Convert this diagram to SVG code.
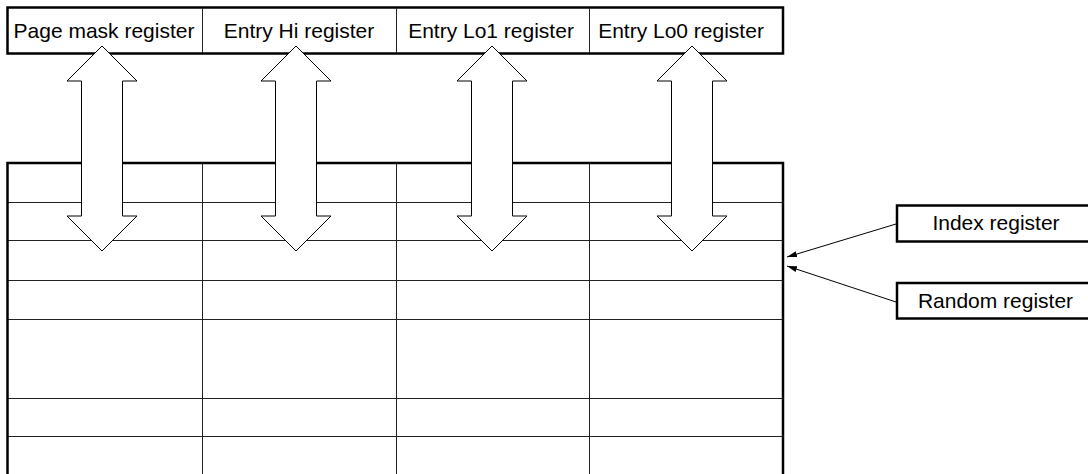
<svg xmlns="http://www.w3.org/2000/svg" width="1088" height="474" viewBox="0 0 1088 474">
<style>
.thick{fill:none;stroke:#000;stroke-width:2.5}
.thin{fill:none;stroke:#222;stroke-width:1}
.lbl{font-family:"Liberation Sans",Arial,sans-serif;font-size:21px;fill:#000;text-anchor:middle}
.barrow{fill:#fff;stroke:#000;stroke-width:1}
.conn{fill:none;stroke:#000;stroke-width:1}
</style>
<defs>
<marker id="ah" viewBox="0 0 10 6" refX="10" refY="3" markerWidth="10" markerHeight="6" markerUnits="userSpaceOnUse" orient="auto">
<path d="M0,0 L10,3 L0,6 Z" fill="#000"/>
</marker>
</defs>
<rect width="1088" height="474" fill="#fff"/>
<g id="tlb-table">
<line class="thin" x1="7" y1="202.5" x2="783" y2="202.5"/>
<line class="thin" x1="7" y1="240.5" x2="783" y2="240.5"/>
<line class="thin" x1="7" y1="280.5" x2="783" y2="280.5"/>
<line class="thin" x1="7" y1="319.5" x2="783" y2="319.5"/>
<line class="thin" x1="7" y1="398.5" x2="783" y2="398.5"/>
<line class="thin" x1="7" y1="436.5" x2="783" y2="436.5"/>
<line class="thin" x1="202.5" y1="163" x2="202.5" y2="476"/>
<line class="thin" x1="396.5" y1="163" x2="396.5" y2="476"/>
<line class="thin" x1="589.5" y1="163" x2="589.5" y2="476"/>
<rect class="thick" x="7.5" y="163" width="775.5" height="320"/>
</g>
<g id="registers-top">
<rect class="thick" x="7.5" y="7.5" width="775.5" height="46"/>
<line class="thin" x1="202.5" y1="8" x2="202.5" y2="53"/>
<line class="thin" x1="396.5" y1="8" x2="396.5" y2="53"/>
<line class="thin" x1="589.5" y1="8" x2="589.5" y2="53"/>
<text class="lbl" x="104" y="38">Page mask register</text>
<text class="lbl" x="299" y="38">Entry Hi register</text>
<text class="lbl" x="491" y="38">Entry Lo1 register</text>
<text class="lbl" x="681" y="38">Entry Lo0 register</text>
</g>
<g id="arrow-pagemask"><polygon class="barrow" points="102,46 137,81 122.5,81 122.5,216 137,216 102,251 67,216 81.5,216 81.5,81 67,81"/></g>
<g id="arrow-entryhi"><polygon class="barrow" points="296,46 331,81 316.5,81 316.5,216 331,216 296,251 261,216 275.5,216 275.5,81 261,81"/></g>
<g id="arrow-entrylo1"><polygon class="barrow" points="492,46 527,81 512.5,81 512.5,216 527,216 492,251 457,216 471.5,216 471.5,81 457,81"/></g>
<g id="arrow-entrylo0"><polygon class="barrow" points="692,46 727,81 712.5,81 712.5,216 727,216 692,251 657,216 671.5,216 671.5,81 657,81"/></g>
<g id="index-register">
<rect class="thick" x="897" y="205.5" width="200" height="36"/>
<text class="lbl" x="996" y="230">Index register</text>
</g>
<g id="random-register">
<rect class="thick" x="897" y="283" width="200" height="35.5"/>
<text class="lbl" x="995.5" y="308">Random register</text>
</g>
<g id="connectors">
<line class="conn" x1="896" y1="224" x2="787" y2="257" marker-end="url(#ah)"/>
<line class="conn" x1="896" y1="302" x2="787" y2="266" marker-end="url(#ah)"/>
</g>
</svg>
